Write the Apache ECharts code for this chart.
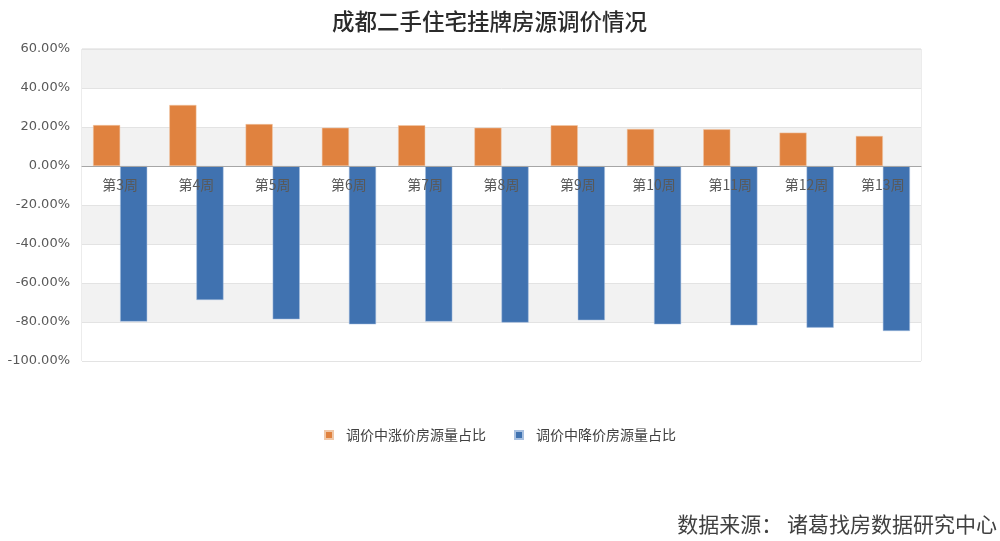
<!DOCTYPE html>
<html>
<head>
<meta charset="utf-8">
<script src="https://cdn.jsdelivr.net/npm/echarts@6/dist/echarts.min.js"></script>
<style>html,body{margin:0;padding:0;background:#fff;}#c{width:1000px;height:541px;}</style>
</head>
<body>
<div id="c"></div>
<script>
const categories = ['第3周','第4周','第5周','第6周','第7周','第8周','第9周','第10周','第11周','第12周','第13周'];
const upShare = [21.0, 31.3, 21.5, 19.6, 20.9, 19.6, 20.9, 19.0, 18.8, 17.1, 15.4];
const downShare = [-79.8, -68.7, -78.6, -81.2, -79.8, -80.3, -79.1, -81.2, -81.7, -82.9, -84.6];
const seriesNames = ['调价中涨价房源量占比', '调价中降价房源量占比'];
const titleText = '成都二手住宅挂牌房源调价情况';
const sourceText = '数据来源： 诸葛找房数据研究中心';
const yMin = -100, yMax = 60, yStep = 20;

const chart = echarts.init(document.getElementById('c'));
const font = '"Noto Sans CJK SC", "Noto Sans", sans-serif';
const gridTop = 49, gridBottom = 180, H = 541;
const plotH = H - gridTop - gridBottom;
const zeroOffset = plotH * (0 - yMin) / (yMax - yMin);
chart.setOption({
  animation: false,
  textStyle: { fontFamily: font },
  title: {
    text: titleText, left: 327, top: 5,
    textStyle: { fontSize: 22.5, fontWeight: 500, color: '#2b2b2b', fontFamily: font }
  },
  graphic: [{
    type: 'text', right: 3, top: 514,
    style: { text: sourceText, fill: '#404040', font: '21px ' + font }
  }],
  legend: {
    top: 423, left: 'center', itemWidth: 8, itemHeight: 8, itemGap: 28,
    icon: 'rect',
    textStyle: { fontSize: 14, color: '#404040', fontFamily: font, padding: [0, 0, 0, 8] },
    data: seriesNames
  },
  grid: { left: 82, right: 79, top: gridTop, bottom: gridBottom, show: true, borderColor: '#d9d9d9', borderWidth: 1 },
  xAxis: {
    type: 'category', data: categories, z: 10,
    position: 'bottom', offset: -zeroOffset,
    axisLine: { onZero: false, lineStyle: { color: '#a6a6a6', width: 1 } },
    axisTick: { show: false },
    axisLabel: { color: '#595959', fontSize: 14, margin: 12, fontFamily: font }
  },
  yAxis: {
    type: 'value', min: yMin, max: yMax, interval: yStep,
    axisLine: { show: false }, axisTick: { show: false },
    axisLabel: { color: '#595959', fontSize: 13, margin: 12, formatter: v => v.toFixed(2) + '%', fontFamily: '"DejaVu Sans", sans-serif' },
    splitLine: { lineStyle: { color: '#e3e3e3' } },
    splitArea: { show: true, areaStyle: { color: ['#ffffff', '#f2f2f2'] } }
  },
  series: [
    { name: seriesNames[0], type: 'bar', data: upShare, barGap: '0%', barCategoryGap: '29%',
      itemStyle: { color: '#E0823F', borderColor: '#f0c8a8', borderWidth: 0.5 } },
    { name: seriesNames[1], type: 'bar', data: downShare, barGap: '0%', barCategoryGap: '29%',
      itemStyle: { color: '#4072B0', borderColor: '#a8c0e0', borderWidth: 0.5 } }
  ]
});
</script>
</body>
</html>
